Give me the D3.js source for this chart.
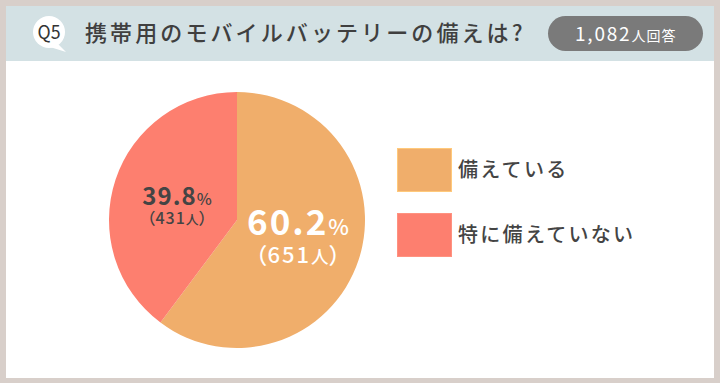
<!DOCTYPE html>
<html><head><meta charset="utf-8">
<script src="https://cdn.jsdelivr.net/npm/d3@7"></script>
<style>
html,body{margin:0;padding:0;background:#d8cfca;}
svg{display:block;font-family:"Noto Sans CJK JP","Noto Sans",sans-serif;}
</style></head><body>
<svg id="c" width="720" height="383"></svg>
<script>
const categories = ["備えている", "特に備えていない"];
const percents = [60.2, 39.8];
const counts = [651, 431];
const colors = ["#f0ae6b", "#fd7f6f"];
const totalLabel = "1,082";
const title = "携帯用のモバイルバッテリーの備えは?";
const qLabel = "Q5";

const svg = d3.select("#c");
svg.append("rect").attr("x",0).attr("y",0).attr("width",720).attr("height",383).attr("fill","#d8cfca");
svg.append("rect").attr("x",6).attr("y",6).attr("width",708).attr("height",372).attr("fill","#ffffff");
svg.append("rect").attr("x",6).attr("y",6).attr("width",708).attr("height",55).attr("fill","#d3e1e4");

// Q bubble
svg.append("path").attr("d","M57,43 L66,52 L50,47 Z").attr("fill","#fff");
svg.append("circle").attr("cx",49).attr("cy",32).attr("r",16).attr("fill","#fff");
svg.append("text").attr("x",49).attr("y",39).attr("text-anchor","middle")
  .attr("font-size",19).attr("fill","#333").attr("textLength",23).attr("lengthAdjust","spacingAndGlyphs").text(qLabel);
svg.append("text").attr("x",85).attr("y",41).attr("font-size",22).attr("font-weight",500)
  .attr("letter-spacing",3.1).attr("fill","#3f3f3f").text(title);

// pill
svg.append("rect").attr("x",548).attr("y",16).attr("width",155).attr("height",35).attr("rx",17.5).attr("fill","#7a7a7a");
const pt = svg.append("text").attr("x",575).attr("y",41).attr("fill","#fff");
pt.append("tspan").attr("font-size",19).attr("letter-spacing",1.8).text(totalLabel);
pt.append("tspan").attr("font-size",14).attr("letter-spacing",1).text("人回答");

// pie
const cx = 237, cy = 220, R = 128;
const pie = d3.pie().sort(null).value(d => d)(percents);
const arc = d3.arc().innerRadius(0).outerRadius(R);
const g = svg.append("g").attr("transform",`translate(${cx},${cy})`);
g.selectAll("path").data(pie).join("path").attr("d",arc).attr("fill",(d,i)=>colors[i]);

// labels
const labelSpec = [
  {dx: 61, dy: 15, big: 35, small: 22, pct: 22, col: "#ffffff", gap: 28, ls: 2},
  {dx: -60, dy: -15, big: 24, small: 16, pct: 16, col: "#444444", gap: 19, ls: 1}
];
percents.forEach((p,i)=>{
  const s = labelSpec[i];
  const t = g.append("text").attr("x",s.dx).attr("y",s.dy).attr("text-anchor","middle")
    .attr("fill",s.col).attr("font-weight",700);
  t.append("tspan").attr("font-size",s.big).attr("letter-spacing",s.ls).text(p.toFixed(1));
  t.append("tspan").attr("font-size",s.pct).attr("font-weight",500).text("%");
  const t2 = g.append("text").attr("x",s.dx).attr("y",s.dy+s.gap).attr("text-anchor","middle")
    .attr("fill",s.col).attr("font-weight",500);
  t2.append("tspan").attr("font-size",s.small).text("（");
  t2.append("tspan").attr("font-size",s.small).attr("letter-spacing",s.ls).text(counts[i]);
  t2.append("tspan").attr("font-size",s.small*0.8).text("人");
  t2.append("tspan").attr("font-size",s.small).text("）");
});

// legend
const lg = svg.append("g");
categories.forEach((c,i)=>{
  const y = 148 + i*65;
  lg.append("rect").attr("x",397.5).attr("y",y+0.5).attr("width",54).attr("height",43)
    .attr("fill",colors[i]).attr("stroke",d3.color(colors[i]).brighter(0.4)).attr("stroke-width",1);
  lg.append("text").attr("x",458).attr("y",y+29).attr("font-size",20).attr("font-weight",500)
    .attr("letter-spacing",2.3).attr("fill","#444").text(c);
});
</script></body></html>
